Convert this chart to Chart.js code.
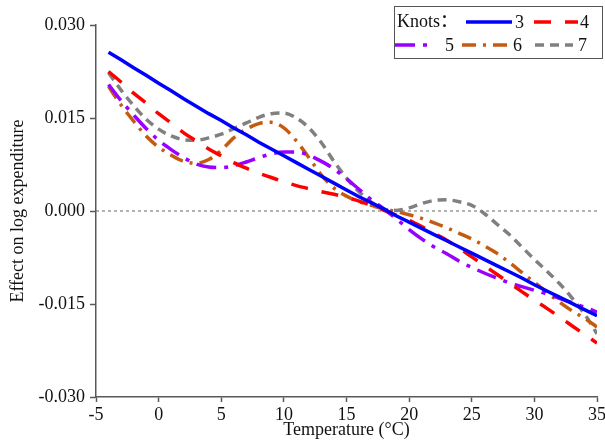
<!DOCTYPE html>
<html>
<head>
<meta charset="utf-8">
<script src="https://cdn.jsdelivr.net/npm/chart.js@4"></script>
<style>body{margin:0;background:#fff}</style>
</head>
<body>
<canvas id="c" width="605" height="445"></canvas>
<script>
// temperature grid (°C) the curves are read at
const temps = [-4, -3, -2, -1, 0, 1, 2, 3, 4, 5, 6, 7, 8, 9, 10, 11, 12, 13, 14, 15,
  16, 17, 18, 19, 20, 21, 22, 23, 24, 25, 26, 27, 28, 29, 30, 31, 32, 33, 34, 35];

// effect on log expenditure, one series per number of knots
const knots3 = [0.0256, 0.0244, 0.0231, 0.0219, 0.0206, 0.0194, 0.0181, 0.0169, 0.0157, 0.0146,
  0.0134, 0.0123, 0.0111, 0.0100, 0.0089, 0.0078, 0.0067, 0.0056, 0.0045, 0.0034,
  0.0023, 0.0013, 0.0003, -0.0008, -0.0018, -0.0028, -0.0038, -0.0048, -0.0058, -0.0068,
  -0.0078, -0.0088, -0.0098, -0.0108, -0.0119, -0.0129, -0.0139, -0.0149, -0.0159, -0.0169];
const knots4 = [0.0225, 0.0208, 0.0190, 0.0174, 0.0157, 0.0142, 0.0126, 0.0113, 0.0100, 0.0089,
  0.0078, 0.0069, 0.0061, 0.0054, 0.0047, 0.0041, 0.0036, 0.0031, 0.0027, 0.0022,
  0.0016, 0.0009, 0.0001, -0.0007, -0.0015, -0.0025, -0.0036, -0.0047, -0.0060, -0.0074,
  -0.0088, -0.0102, -0.0116, -0.0130, -0.0144, -0.0157, -0.0171, -0.0185, -0.0199, -0.0213];
const knots5 = [0.0204, 0.0178, 0.0155, 0.0133, 0.0114, 0.0099, 0.0086, 0.0076, 0.0071, 0.0070,
  0.0073, 0.0079, 0.0086, 0.0092, 0.0095, 0.0095, 0.0090, 0.0080, 0.0068, 0.0052,
  0.0035, 0.0018, 0.0003, -0.0013, -0.0030, -0.0045, -0.0058, -0.0069, -0.0081, -0.0091,
  -0.0100, -0.0108, -0.0116, -0.0122, -0.0128, -0.0134, -0.0141, -0.0148, -0.0155, -0.0163];
const knots6 = [0.0201, 0.0171, 0.0145, 0.0121, 0.0103, 0.0090, 0.0080, 0.0077, 0.0083, 0.0098,
  0.0118, 0.0132, 0.0141, 0.0143, 0.0134, 0.0113, 0.0086, 0.0058, 0.0037, 0.0024,
  0.0015, 0.0009, 0.0003, -0.0001, -0.0006, -0.0012, -0.0019, -0.0027, -0.0036, -0.0045,
  -0.0056, -0.0068, -0.0083, -0.0099, -0.0115, -0.0131, -0.0147, -0.0161, -0.0173, -0.0187];
const knots7 = [0.0223, 0.0195, 0.0170, 0.0148, 0.0132, 0.0121, 0.0115, 0.0114, 0.0118, 0.0124,
  0.0133, 0.0142, 0.0151, 0.0157, 0.0158, 0.0150, 0.0134, 0.0110, 0.0080, 0.0053,
  0.0031, 0.0014, 0.0003, 0.0001, 0.0005, 0.0012, 0.0017, 0.0018, 0.0015, 0.0009,
  -0.0004, -0.0021, -0.0038, -0.0058, -0.0078, -0.0097, -0.0117, -0.0140, -0.0166, -0.0198];

const xTicks = [-5, 0, 5, 10, 15, 20, 25, 30, 35];
const yTicks = [-0.030, -0.015, 0.000, 0.015, 0.030];

const serif = '"Liberation Serif", "Times New Roman", "Noto Sans CJK SC", serif';

function series(values) {
  return temps.map((t, i) => ({ x: t, y: values[i] }));
}

function curve(label, values, color, dash, smooth) {
  return {
    label: label,
    data: series(values),
    borderColor: color,
    borderWidth: 3.5,
    borderDash: dash,
    pointRadius: 0,
    fill: false,
    tension: 0,
    cubicInterpolationMode: smooth ? 'monotone' : 'default'
  };
}

// legend is drawn by hand: "Knots：" then line sample + number, two rows
const knotLegend = {
  id: 'knotLegend',
  afterDraw(chart) {
    const ctx = chart.ctx;
    ctx.save();
    ctx.strokeStyle = '#555';
    ctx.lineWidth = 1;
    ctx.strokeRect(394.5, 6.5, 208, 52);
    ctx.font = '18px ' + serif;
    ctx.fillStyle = '#111';
    ctx.textBaseline = 'middle';
    ctx.fillText('Knots：', 397, 22);
    const items = [
      [0, 466, 512, 22, 515],
      [1, 534, 578, 22, 580],
      [2, 395, 434, 45, 445],
      [3, 462, 507, 45, 513],
      [4, 535, 573, 45, 578]
    ];
    items.forEach(([di, x1, x2, y, tx]) => {
      const ds = chart.data.datasets[di];
      ctx.strokeStyle = ds.borderColor;
      ctx.lineWidth = ds.borderWidth;
      ctx.setLineDash(ds.borderDash || []);
      ctx.beginPath();
      ctx.moveTo(x1, y);
      ctx.lineTo(x2, y);
      ctx.stroke();
      ctx.setLineDash([]);
      ctx.fillText(ds.label, tx, y + 1);
    });
    ctx.restore();
  }
};

new Chart(document.getElementById('c'), {
  type: 'line',
  data: {
    datasets: [
      curve('3', knots3, '#0000ff', [], false),
      curve('4', knots4, '#ff0000', [17, 14], true),
      curve('5', knots5, '#9900ff', [20, 8, 4, 8], true),
      curve('6', knots6, '#c55a11', [14, 7, 3, 7], true),
      curve('7', knots7, '#808080', [9, 6], true),
      {
        label: 'zero',
        data: [{ x: xTicks[0], y: 0 }, { x: xTicks[xTicks.length - 1], y: 0 }],
        borderColor: '#666',
        borderWidth: 1,
        borderDash: [3, 3],
        pointRadius: 0
      }
    ]
  },
  options: {
    responsive: false,
    animation: false,
    layout: { padding: { top: 25, right: 8, left: 0, bottom: 0 } },
    plugins: { legend: { display: false }, tooltip: { enabled: false } },
    scales: {
      x: {
        type: 'linear',
        min: xTicks[0],
        max: xTicks[xTicks.length - 1],
        afterBuildTicks(s) { s.ticks = xTicks.map(v => ({ value: v })); },
        ticks: { color: '#111', font: { family: serif, size: 18 }, padding: 2, maxRotation: 0 },
        grid: { drawOnChartArea: false, tickLength: 5, color: '#595959', tickWidth: 1.5 },
        border: { color: '#595959', width: 1.5 },
        title: { display: true, text: 'Temperature (°C)', color: '#111', font: { family: serif, size: 18 } },
        afterFit(s) { s.height = 48; s.paddingLeft = 0; s.paddingRight = 0; }
      },
      y: {
        min: yTicks[0],
        max: yTicks[yTicks.length - 1],
        afterBuildTicks(s) { s.ticks = yTicks.map(v => ({ value: v })); },
        ticks: {
          color: '#111',
          font: { family: serif, size: 18 },
          padding: 5,
          callback: v => (Math.abs(v) < 1e-9 ? 0 : v).toFixed(3)
        },
        grid: { drawOnChartArea: false, tickLength: 6, color: '#595959', tickWidth: 1.5 },
        border: { color: '#595959', width: 1.5 },
        title: { display: true, text: 'Effect on log expenditure', color: '#111', font: { family: serif, size: 18 }, padding: { top: 7, bottom: 0 } },
        afterFit(s) { s.width = 96; s.paddingTop = 0; s.paddingBottom = 0; }
      }
    }
  },
  plugins: [knotLegend]
});
</script>
</body>
</html>
